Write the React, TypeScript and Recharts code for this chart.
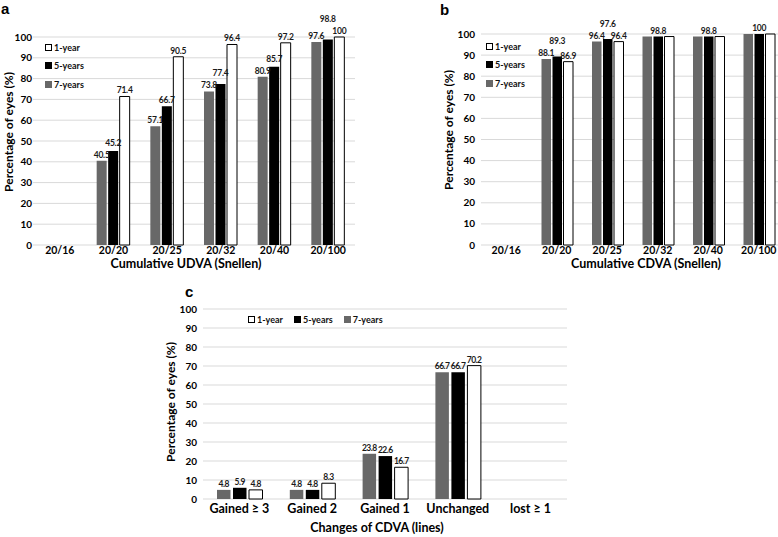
import React from "react";
import { BarChart, Bar, XAxis, YAxis, CartesianGrid, Legend, LabelList } from "recharts";

const snellen = ["20/16", "20/20", "20/25", "20/32", "20/40", "20/100"];
const udva1Year = [null, 71.4, 90.5, 96.4, 97.2, 100];
const udva5Years = [null, 45.2, 66.7, 77.4, 85.7, 98.8];
const udva7Years = [null, 40.5, 57.1, 73.8, 80.9, 97.6];

const cdva1Year = [null, 86.9, 96.4, 98.8, 98.8, 100];
const cdva5Years = [null, 89.3, 97.6, 98.8, 98.8, 100];
const cdva7Years = [null, 88.1, 96.4, 98.8, 98.8, 100];

const changes = ["Gained ≥ 3", "Gained 2", "Gained 1", "Unchanged", "lost ≥ 1"];
const change1Year = [4.8, 8.3, 16.7, 70.2, null];
const change5Years = [5.9, 4.8, 22.6, 66.7, null];
const change7Years = [4.8, 4.8, 23.8, 66.7, null];

const yTicks = [0, 10, 20, 30, 40, 50, 60, 70, 80, 90, 100];
const legendNames = ["1-year", "5-years", "7-years"];

const FONT = "Lato, 'Open Sans', sans-serif";
const GRAY = "#686868";
const GRID = "#d9d9d9";
const legendFills = [
  { fill: "#fff", border: "#000" },
  { fill: "#000", border: "#000" },
  { fill: GRAY, border: GRAY },
];

type Num = number | null;

// the CDVA panel only prints one label when the three bars share a value
function makeRows(cats: string[], y7: Num[], y5: Num[], y1: Num[], dedupe = false) {
  return cats.map((cat, i) => ({
    cat,
    y7: y7[i],
    y5: y5[i],
    y1: y1[i],
    l7: dedupe && y7[i] === y5[i] ? null : y7[i],
    l5: y5[i],
    l1: dedupe && y1[i] === y5[i] ? null : y1[i],
  }));
}

const udvaRows = makeRows(snellen, udva7Years, udva5Years, udva1Year);
const cdvaRows = makeRows(snellen, cdva7Years, cdva5Years, cdva1Year, true);
const changeRows = makeRows(changes, change7Years, change5Years, change1Year);

// value label above a bar; the middle one steps up when it would hit its neighbours
function labelRenderer(rows: any[], key: "l7" | "l5" | "l1", lift: boolean, fs: number, spacing: number) {
  const shown = rows.filter((r) => r.y5 != null);
  return (props: any) => {
    const { value, index } = props;
    if (value == null || value === "") return null;
    const vb = props.viewBox && props.viewBox.width != null ? props.viewBox : props;
    const { x, y, width, height } = vb;
    let base = y - 3;
    // label index may count only the drawn bars
    const row = [rows[index], shown[index]].find((r) => r && r.l5 === value);
    if (lift && key === "l5" && row) {
      const scale = height / row.y5;
      const bottom = y + height;
      const gap = 12;
      for (let pass = 0; pass < 2; pass++) {
        [row.l7, row.l1].forEach((nv: Num) => {
          if (nv == null) return;
          const nb = bottom - nv * scale - 3;
          if (Math.abs(nb - base) < gap) base = Math.min(base, nb - gap);
        });
      }
    }
    return (
      <text
        x={x + width / 2}
        y={base}
        textAnchor="middle"
        fontSize={fs}
        fontWeight={700}
        fill="#1a1a1a"
        fontFamily={FONT}
        letterSpacing={spacing}
      >
        {value}
      </text>
    );
  };
}

function Swatch({ i }: { i: number }) {
  const s = legendFills[i];
  return (
    <span
      style={{
        display: "inline-block",
        width: 7,
        height: 7,
        boxSizing: "border-box",
        background: s.fill,
        border: `1px solid ${s.border}`,
        marginRight: 2,
      }}
    />
  );
}

function VerticalLegend() {
  return (
    <div style={{ fontFamily: FONT, fontWeight: 700, fontSize: 9, color: "#111" }}>
      {legendNames.map((n, i) => (
        <div key={n} style={{ height: 18.6, display: "flex", alignItems: "center" }}>
          <Swatch i={i} />
          {n}
        </div>
      ))}
    </div>
  );
}

function RowLegend() {
  return (
    <div style={{ fontFamily: FONT, fontWeight: 700, fontSize: 9, color: "#111", display: "flex", height: 12, alignItems: "center" }}>
      {legendNames.map((n, i) => (
        <div key={n} style={{ display: "flex", alignItems: "center", marginRight: 11 }}>
          <Swatch i={i} />
          {n}
        </div>
      ))}
    </div>
  );
}

interface PanelProps {
  rows: any[];
  width: number;
  height: number;
  top: number;
  right: number;
  yWidth: number;
  yTickMargin: number;
  xHeight: number;
  xTickMargin: number;
  xFont: number;
  barSize: number;
  barGap: number;
  legend: React.ReactElement;
  legendPos: { left: number; top: number };
  vertical: boolean;
  lift: boolean;
  labelFont: number;
  labelSpacing: number;
}

function Panel(p: PanelProps) {
  return (
    <BarChart
      width={p.width}
      height={p.height}
      data={p.rows}
      margin={{ top: p.top, right: p.right, left: 0, bottom: 0 }}
      barSize={p.barSize}
      barGap={p.barGap}
    >
      <CartesianGrid vertical={false} stroke={GRID} />
      <XAxis
        dataKey="cat"
        interval={0}
        height={p.xHeight}
        axisLine={false}
        tickLine={false}
        tickSize={0}
        tickMargin={p.xTickMargin}
        tick={{ fontSize: p.xFont, fontWeight: 700, fill: "#000", fontFamily: FONT }}
      />
      <YAxis
        domain={[0, 100]}
        ticks={yTicks}
        interval={0}
        width={p.yWidth}
        axisLine={false}
        tickLine={false}
        tickSize={0}
        tickMargin={p.yTickMargin}
        tick={{ fontSize: 10, fontWeight: 700, fill: "#000", fontFamily: FONT }}
      />
      <Legend
        layout={p.vertical ? "vertical" : "horizontal"}
        verticalAlign="middle"
        align="center"
        content={() => p.legend}
        wrapperStyle={{ left: p.legendPos.left, top: p.legendPos.top, width: "auto" }}
      />
      <Bar dataKey="y7" name="7-years" fill={GRAY} isAnimationActive={false}>
        <LabelList dataKey="l7" content={labelRenderer(p.rows, "l7", p.lift, p.labelFont, p.labelSpacing)} />
      </Bar>
      <Bar dataKey="y5" name="5-years" fill="#000" isAnimationActive={false}>
        <LabelList dataKey="l5" content={labelRenderer(p.rows, "l5", p.lift, p.labelFont, p.labelSpacing)} />
      </Bar>
      <Bar dataKey="y1" name="1-year" fill="#fff" stroke="#000" strokeWidth={1} isAnimationActive={false}>
        <LabelList dataKey="l1" content={labelRenderer(p.rows, "l1", p.lift, p.labelFont, p.labelSpacing)} />
      </Bar>
    </BarChart>
  );
}

const titleProps = { fontFamily: FONT, fontWeight: 700, fill: "#000" } as const;
const letterProps = { fontFamily: "'Liberation Sans', Arial, sans-serif", fontWeight: 700, fontSize: 15, fill: "#000" } as const;

export default function App() {
  return (
    <div style={{ position: "absolute", left: 0, top: 0, width: 778, height: 537, overflow: "hidden", background: "#fff" }}>
      <div style={{ position: "absolute", left: 0, top: 0 }}>
        <Panel
          rows={udvaRows}
          width={390}
          height={270}
          top={37}
          right={35}
          yWidth={33}
          yTickMargin={1}
          xHeight={25}
          xTickMargin={2}
          xFont={10.5}
          barSize={10}
          barGap={1.5}
          legend={<VerticalLegend />}
          legendPos={{ left: 45, top: 38 }}
          vertical
          lift
          labelFont={8.5}
          labelSpacing={-0.2}
        />
      </div>
      <div style={{ position: "absolute", left: 388, top: 0 }}>
        <Panel
          rows={cdvaRows}
          width={396}
          height={270}
          top={34}
          right={0}
          yWidth={93}
          yTickMargin={6}
          xHeight={25}
          xTickMargin={2}
          xFont={10.5}
          barSize={9.5}
          barGap={1.5}
          legend={<VerticalLegend />}
          legendPos={{ left: 98, top: 37 }}
          vertical
          lift
          labelFont={8.5}
          labelSpacing={-0.2}
        />
      </div>
      <div style={{ position: "absolute", left: 150, top: 280 }}>
        <Panel
          rows={changeRows}
          width={430}
          height={239}
          top={29}
          right={13}
          yWidth={53}
          yTickMargin={6}
          xHeight={20}
          xTickMargin={5}
          xFont={12.5}
          barSize={13.5}
          barGap={2.5}
          legend={<RowLegend />}
          legendPos={{ left: 98, top: 33 }}
          vertical={false}
          lift={false}
          labelFont={8.5}
          labelSpacing={-0.5}
        />
      </div>
      <svg width={778} height={537} style={{ position: "absolute", left: 0, top: 0, pointerEvents: "none" }}>
        <text x={1} y={14} {...letterProps}>a</text>
        <text x={440} y={15} {...letterProps}>b</text>
        <text x={185} y={297} {...letterProps}>c</text>

        <text x={186} y={268} textAnchor="middle" fontSize={12.5} {...titleProps}>Cumulative UDVA (Snellen)</text>
        <text x={646} y={268} textAnchor="middle" fontSize={12.5} {...titleProps}>Cumulative CDVA (Snellen)</text>
        <text x={377} y={532} textAnchor="middle" fontSize={12.5} {...titleProps}>Changes of CDVA (lines)</text>

        <text transform="translate(8,132) rotate(-90)" textAnchor="middle" dominantBaseline="central" fontSize={12} {...titleProps}>Percentage of eyes (%)</text>
        <text transform="translate(448,130) rotate(-90)" textAnchor="middle" dominantBaseline="central" fontSize={12} {...titleProps}>Percentage of eyes (%)</text>
        <text transform="translate(170,402) rotate(-90)" textAnchor="middle" dominantBaseline="central" fontSize={12} {...titleProps}>Percentage of eyes (%)</text>
      </svg>
    </div>
  );
}
